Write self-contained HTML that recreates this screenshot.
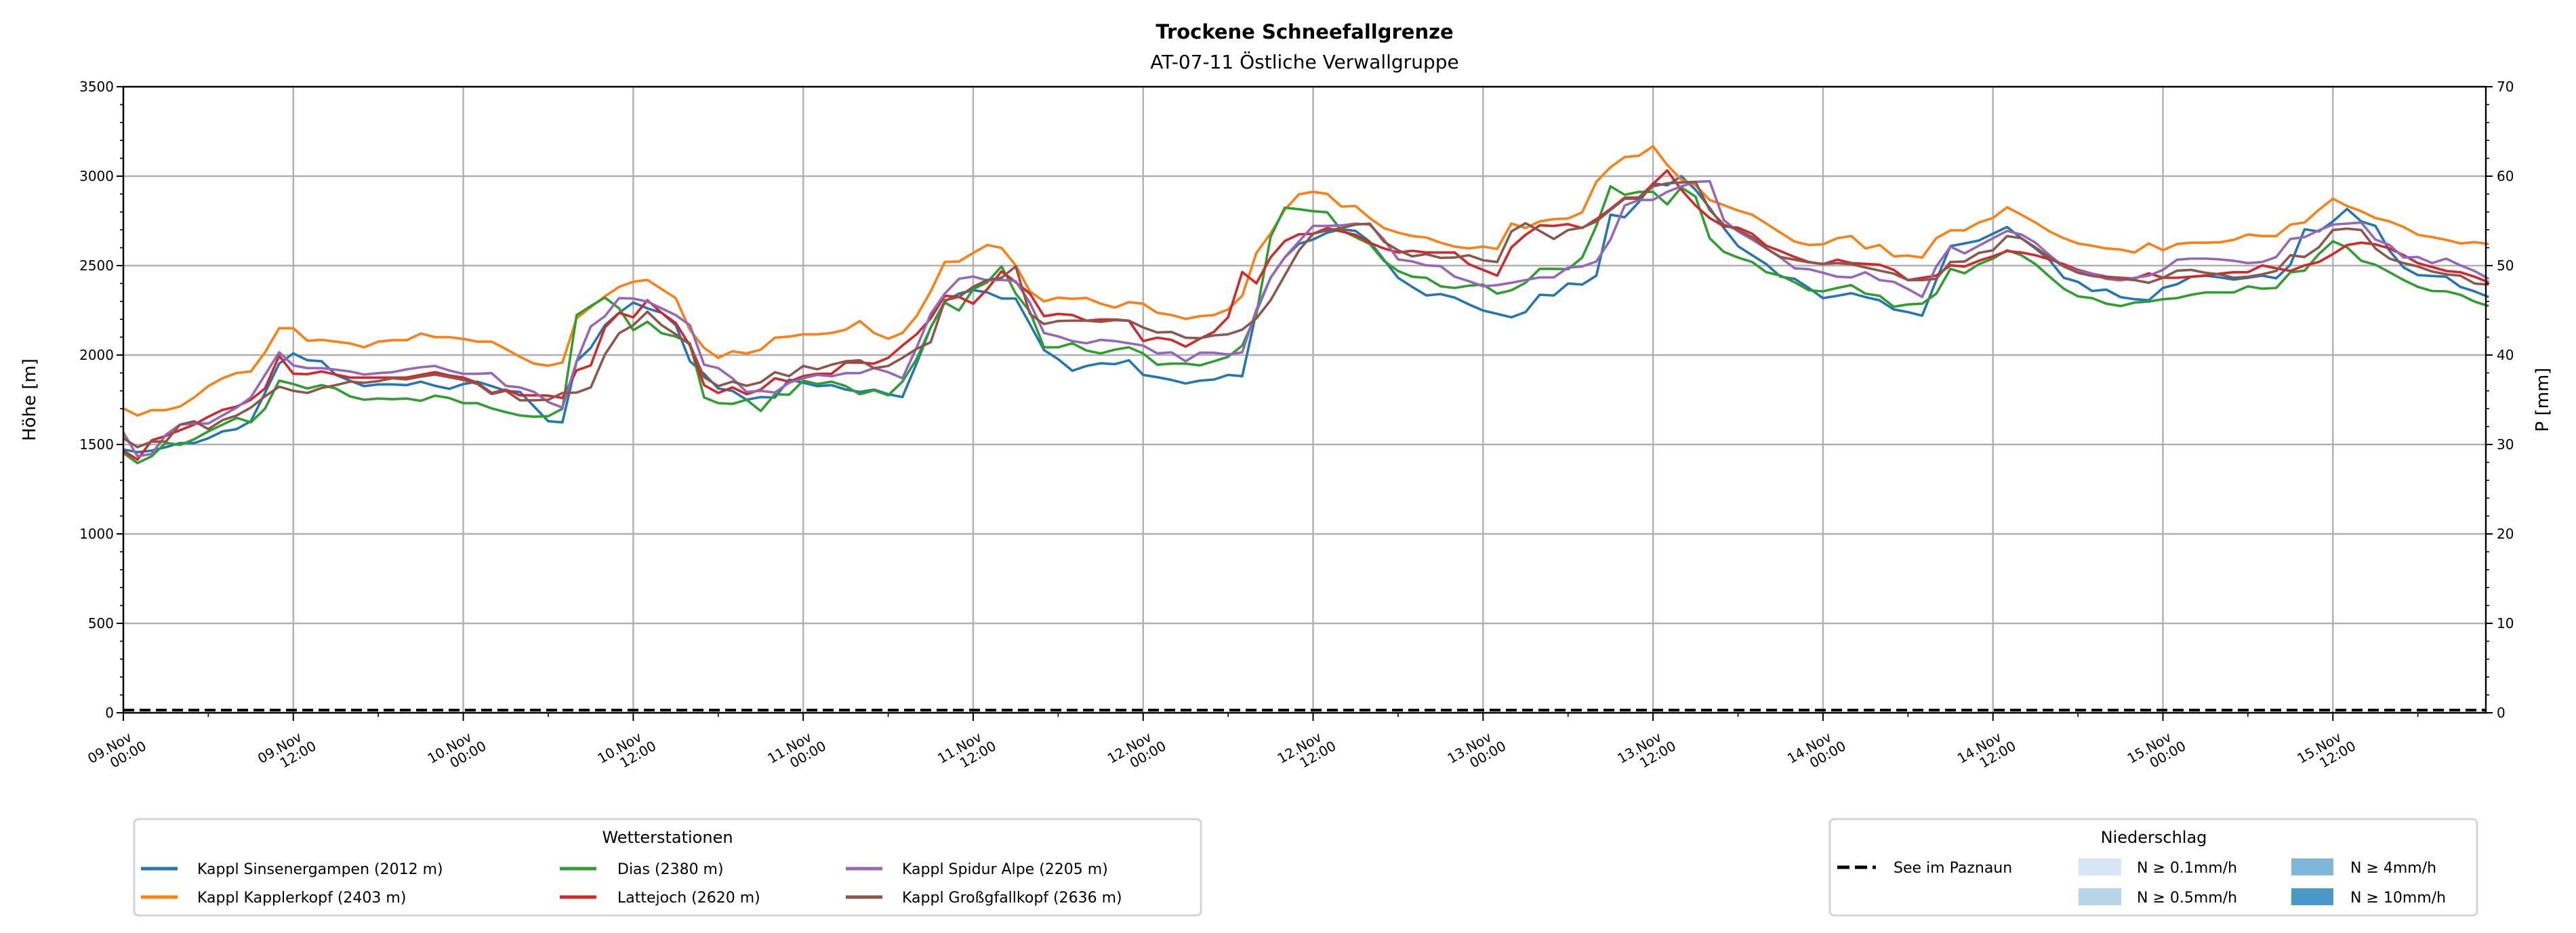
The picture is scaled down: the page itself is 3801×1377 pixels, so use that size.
<!DOCTYPE html>
<html><head><meta charset="utf-8"><style>
html,body{margin:0;padding:0;background:#fff;}
svg{display:block;font-family:"DejaVu Sans","Liberation Sans",sans-serif;}
</style></head><body>
<svg id="chart" width="3801" height="1377" viewBox="0 0 3801 1377" xmlns="http://www.w3.org/2000/svg">
<rect width="3801" height="1377" fill="#fff"/>
<text x="1925" y="57" font-size="29" font-weight="bold" text-anchor="middle">Trockene Schneefallgrenze</text>
<text x="1925" y="101" font-size="28" text-anchor="middle">AT-07-11 Östliche Verwallgruppe</text>
<g id="grid"></g>
<g id="series"></g>
<g id="axes"></g>
<text transform="translate(52,590) rotate(-90)" font-size="26" text-anchor="middle">Höhe [m]</text>
<text transform="translate(3760,590) rotate(-90)" font-size="26" text-anchor="middle">P [mm]</text>

<g>
<rect x="198" y="1209" width="1574" height="142" rx="6" fill="#fff" stroke="#d4d4d4" stroke-width="3"/>
<text x="985" y="1244" font-size="24" text-anchor="middle">Wetterstationen</text>
<g><line x1="208" y1="1282" x2="262" y2="1282" stroke="#1f77b4" stroke-width="5"/><text x="291" y="1290" font-size="22">Kappl Sinsenergampen (2012 m)</text></g>
<g><line x1="208" y1="1324" x2="262" y2="1324" stroke="#ff7f0e" stroke-width="5"/><text x="291" y="1332" font-size="22">Kappl Kapplerkopf (2403 m)</text></g>
<g><line x1="826" y1="1282" x2="880" y2="1282" stroke="#2ca02c" stroke-width="5"/><text x="911" y="1290" font-size="22">Dias (2380 m)</text></g>
<g><line x1="826" y1="1324" x2="880" y2="1324" stroke="#d62728" stroke-width="5"/><text x="911" y="1332" font-size="22">Lattejoch (2620 m)</text></g>
<g><line x1="1248" y1="1282" x2="1302" y2="1282" stroke="#9467bd" stroke-width="5"/><text x="1331" y="1290" font-size="22">Kappl Spidur Alpe (2205 m)</text></g>
<g><line x1="1248" y1="1324" x2="1302" y2="1324" stroke="#8c564b" stroke-width="5"/><text x="1331" y="1332" font-size="22">Kappl Großgfallkopf (2636 m)</text></g>
</g>

<g>
<rect x="2700" y="1209" width="955" height="142" rx="6" fill="#fff" stroke="#d4d4d4" stroke-width="3"/>
<text x="3178" y="1244" font-size="24" text-anchor="middle">Niederschlag</text>
<g><line x1="2711" y1="1280" x2="2768" y2="1280" stroke="#000" stroke-width="5" stroke-dasharray="18,8"/><text x="2794" y="1288" font-size="22">See im Paznaun</text></g>
<g><rect x="3067" y="1267" width="63" height="25" fill="#d6e6f4"/><text x="3153" y="1288" font-size="22">N ≥ 0.1mm/h</text></g>
<g><rect x="3067" y="1311" width="63" height="25" fill="#b8d4ea"/><text x="3153" y="1332" font-size="22">N ≥ 0.5mm/h</text></g>
<g><rect x="3381" y="1267" width="62" height="25" fill="#7fb6d9"/><text x="3468" y="1288" font-size="22">N ≥ 4mm/h</text></g>
<g><rect x="3381" y="1311" width="62" height="25" fill="#4a98c9"/><text x="3468" y="1332" font-size="22">N ≥ 10mm/h</text></g>
</g>
</svg>
<script>
const yTicks = [0,500,1000,1500,2000,2500,3000,3500];
const y2Ticks = [0,10,20,30,40,50,60,70];
const xTickHours = [0,12,24,36,48,60,72,84,96,108,120,132,144,156];
const xTickDates = ["09.Nov","09.Nov","10.Nov","10.Nov","11.Nov","11.Nov","12.Nov","12.Nov","13.Nov","13.Nov","14.Nov","14.Nov","15.Nov","15.Nov"];
const xTickTimes = ["00:00","12:00","00:00","12:00","00:00","12:00","00:00","12:00","00:00","12:00","00:00","12:00","00:00","12:00"];
const lakeLevel = [0,0];
const sinsenergampen = [1472,1457,1466,1485,1508,1508,1535,1573,1586,1630,1788,1952,2009,1971,1965,1889,1857,1826,1836,1836,1832,1851,1828,1811,1838,1851,1826,1800,1794,1712,1630,1624,1965,2040,2167,2236,2293,2261,2236,2167,1965,1895,
1813,1800,1750,1765,1762,1863,1845,1826,1832,1807,1794,1807,1781,1765,1952,2154,2300,2344,2363,2350,2316,2316,2173,2028,1977,1912,1939,1954,1949,1971,1889,1876,1861,1841,1857,1863,1889,1882,2243,2432,2546,2622,
2646,2684,2703,2694,2634,2533,2432,2381,2333,2341,2321,2283,2249,2230,2211,2240,2337,2333,2400,2394,2444,2785,2770,2855,2960,2949,3000,2924,2823,2710,2609,2558,2508,2438,2426,2375,2318,2331,2346,2324,2306,2255,2240,
2220,2419,2609,2624,2640,2678,2716,2653,2596,2530,2432,2409,2358,2366,2324,2312,2306,2375,2396,2438,2444,2434,2422,2432,2444,2429,2505,2703,2691,2747,2817,2747,2722,2583,2489,2447,2442,2438,2381,2356,2324];
const kapplerkopf = [1702,1662,1692,1692,1712,1763,1826,1870,1900,1908,2015,2150,2150,2080,2085,2075,2065,2043,2075,2083,2083,2120,2100,2100,2090,2075,2075,2034,1990,1952,1940,1958,2205,2268,2328,2381,2410,2420,2369,2318,2141,2040,
1984,2021,2009,2030,2097,2103,2116,2116,2123,2142,2190,2123,2091,2123,2217,2356,2521,2523,2571,2615,2599,2502,2356,2300,2321,2314,2319,2287,2265,2296,2287,2236,2224,2202,2217,2224,2255,2331,2571,2679,2812,2898,
2912,2901,2830,2833,2766,2710,2684,2665,2657,2628,2606,2596,2606,2593,2735,2710,2747,2760,2763,2798,2968,3050,3107,3114,3167,3063,2981,2949,2867,2838,2808,2785,2735,2684,2634,2615,2619,2653,2665,2596,2615,2552,2556,
2545,2653,2697,2697,2741,2766,2826,2785,2741,2691,2653,2624,2611,2596,2590,2573,2624,2586,2621,2628,2628,2630,2644,2674,2665,2665,2729,2741,2811,2874,2833,2804,2766,2747,2716,2672,2659,2644,2624,2631,2621];
const dias = [1453,1396,1434,1510,1497,1529,1573,1611,1649,1624,1700,1857,1838,1813,1832,1813,1769,1750,1757,1753,1757,1744,1773,1760,1731,1731,1702,1681,1662,1655,1658,1700,2223,2274,2321,2261,2139,2186,2122,2103,2066,1763,
1731,1727,1750,1687,1781,1778,1857,1838,1851,1826,1781,1803,1775,1851,1977,2154,2293,2249,2369,2407,2496,2344,2243,2043,2043,2066,2025,2009,2030,2043,2009,1946,1952,1952,1942,1965,1990,2053,2230,2660,2824,2815,
2804,2798,2697,2659,2621,2527,2470,2438,2432,2384,2375,2388,2394,2343,2362,2404,2482,2482,2480,2545,2722,2943,2896,2912,2912,2842,2937,2886,2653,2577,2545,2520,2463,2444,2407,2362,2356,2375,2391,2343,2331,2270,2283,
2287,2343,2482,2457,2508,2539,2586,2558,2508,2438,2371,2328,2318,2287,2274,2293,2299,2312,2318,2337,2350,2350,2350,2384,2371,2375,2463,2472,2564,2636,2602,2527,2505,2463,2419,2381,2358,2356,2337,2299,2274];
const lattejoch = [1466,1415,1523,1548,1580,1611,1655,1693,1712,1750,1813,1996,1895,1893,1908,1891,1874,1874,1874,1874,1874,1889,1904,1886,1874,1845,1788,1807,1775,1775,1773,1760,1914,1942,2154,2236,2211,2306,2236,2179,2053,1832,
1788,1819,1781,1807,1870,1851,1882,1895,1895,1958,1958,1952,1984,2053,2116,2205,2331,2325,2287,2369,2468,2407,2344,2217,2230,2224,2192,2199,2199,2192,2078,2097,2085,2047,2091,2129,2211,2464,2401,2546,2637,2675,
2678,2710,2691,2672,2628,2596,2573,2583,2573,2573,2573,2508,2476,2444,2602,2672,2725,2722,2732,2710,2760,2817,2880,2880,2956,3032,2924,2836,2766,2720,2712,2678,2611,2581,2548,2520,2508,2533,2514,2510,2505,2476,2419,
2432,2444,2501,2495,2527,2552,2581,2573,2558,2535,2508,2476,2455,2438,2432,2428,2457,2432,2432,2438,2444,2455,2463,2463,2501,2485,2470,2501,2520,2564,2615,2628,2619,2596,2558,2514,2492,2470,2463,2438,2407];
const spidurAlpe = [1567,1434,1447,1554,1611,1617,1617,1662,1706,1763,1889,2015,1942,1927,1927,1918,1908,1891,1899,1904,1920,1932,1939,1914,1895,1895,1899,1828,1819,1794,1737,1706,1965,2160,2217,2318,2316,2299,2261,2223,2167,1946,
1927,1870,1794,1800,1790,1845,1870,1889,1882,1899,1899,1927,1904,1870,2040,2230,2344,2426,2439,2417,2420,2413,2293,2123,2104,2078,2066,2085,2078,2066,2053,2009,2015,1965,2013,2013,2003,2015,2255,2432,2546,2635,
2722,2722,2725,2735,2729,2646,2535,2523,2501,2497,2438,2413,2384,2391,2404,2419,2434,2434,2489,2495,2523,2646,2836,2867,2867,2912,2943,2968,2972,2754,2691,2646,2596,2545,2485,2480,2460,2438,2434,2463,2419,2409,2369,
2325,2495,2606,2568,2611,2653,2694,2674,2628,2558,2495,2470,2455,2426,2417,2432,2444,2476,2533,2539,2539,2535,2527,2514,2520,2548,2649,2659,2697,2729,2735,2741,2646,2615,2545,2548,2514,2539,2501,2470,2426];
const grossgfallkopf = [1535,1485,1516,1516,1611,1630,1586,1636,1662,1706,1769,1823,1800,1788,1816,1832,1851,1845,1854,1870,1864,1879,1891,1876,1861,1838,1782,1800,1747,1747,1750,1788,1790,1819,2003,2122,2167,2242,2167,2116,2059,1876,
1826,1851,1828,1848,1904,1882,1939,1920,1946,1965,1971,1927,1939,1984,2034,2072,2306,2325,2382,2420,2432,2496,2230,2173,2190,2192,2192,2186,2195,2192,2154,2126,2129,2097,2094,2110,2116,2142,2205,2306,2445,2584,
2678,2697,2710,2729,2735,2634,2586,2552,2564,2543,2545,2558,2530,2520,2691,2737,2694,2649,2699,2712,2747,2811,2874,2874,2943,2960,2965,2968,2811,2729,2699,2659,2596,2548,2533,2518,2510,2514,2508,2489,2472,2455,2419,
2419,2426,2520,2523,2571,2586,2665,2653,2602,2545,2495,2460,2442,2432,2426,2419,2404,2432,2472,2476,2460,2451,2432,2438,2451,2470,2558,2548,2602,2699,2707,2699,2596,2539,2514,2495,2467,2451,2444,2400,2394];

const NS='http://www.w3.org/2000/svg';
const L=182,R=3668,T=128,B=1052,XMAX=166.8,YMAX=3500;
function xs(h){return L+(R-L)*h/XMAX;}
function ys(v){return B-(B-T)*v/YMAX;}
function el(tag,attrs,parent){const e=document.createElementNS(NS,tag);for(const k in attrs)e.setAttribute(k,attrs[k]);parent.appendChild(e);return e;}
const grid=document.getElementById('grid'),axes=document.getElementById('axes'),ser=document.getElementById('series');

yTicks.forEach(v=>{
  const g=el('line',{x1:L,x2:R,y1:ys(v),y2:ys(v),stroke:'#b0b0b0','stroke-width':2.4},grid);
  
  
  const t=el('text',{x:L-14,y:ys(v)+7,'font-size':20,'text-anchor':'end'},axes);
  t.textContent=v;
  
  
  el('line',{x1:L-10,x2:L,y1:ys(v),y2:ys(v),stroke:'#000','stroke-width':2},axes);
});
for(let v=100;v<YMAX;v+=100){el('line',{x1:L-5,x2:L,y1:ys(v),y2:ys(v),stroke:'#000','stroke-width':1.6},axes);}
y2Ticks.forEach(p=>{
  const yy=B-(B-T)*p/70;
  el('line',{x1:R,x2:R+10,y1:yy,y2:yy,stroke:'#000','stroke-width':2},axes);
  const t=el('text',{x:R+16,y:yy+7,'font-size':20,'text-anchor':'start'},axes);
  t.textContent=p;
  
  
});
for(let p=2;p<70;p+=2){const yy=B-(B-T)*p/70;el('line',{x1:R,x2:R+5,y1:yy,y2:yy,stroke:'#000','stroke-width':1.6},axes);}
xTickHours.forEach((h,i)=>{
  const x=xs(h);
  const g=el('line',{x1:x,x2:x,y1:T,y2:B,stroke:'#b0b0b0','stroke-width':2.4},grid);
  
  
  el('line',{x1:x,x2:x,y1:B,y2:B+12,stroke:'#000','stroke-width':2},axes);
  const t=el('text',{transform:'translate('+(x+14)+','+(B+40)+') rotate(-30)','font-size':20,'text-anchor':'end'},axes);
  
  
  const a=el('tspan',{x:0,dy:0},t);a.textContent=xTickDates[i];
  const b=el('tspan',{x:12,dy:22},t);b.textContent=xTickTimes[i];
});
for(let h=6;h<XMAX;h+=12){el('line',{x1:xs(h),x2:xs(h),y1:B,y2:B+6,stroke:'#000','stroke-width':1.6},axes);}
const frame=el('rect',{x:L,y:T,width:R-L,height:B-T,fill:'none',stroke:'#000','stroke-width':2.4},axes);



const seriesList=[[sinsenergampen,'#1f77b4','line-sinsenergampen'],[kapplerkopf,'#ff7f0e','line-kapplerkopf'],[dias,'#2ca02c','line-dias'],[lattejoch,'#d62728','line-lattejoch'],[spidurAlpe,'#9467bd','line-spidur-alpe'],[grossgfallkopf,'#8c564b','line-grossgfallkopf']];
seriesList.forEach(s=>{
  const pts=s[0].map((v,i)=>xs(i).toFixed(1)+','+ys(v).toFixed(1)).join(' ');
  const p=el('polyline',{points:pts,fill:'none',stroke:s[1],'stroke-width':3.6,'stroke-linejoin':'round'},ser);
  
  
});
const lake=el('line',{x1:L,x2:R,y1:ys(lakeLevel[0])-4,y2:ys(lakeLevel[1])-4,stroke:'#000','stroke-width':4,'stroke-dasharray':'16,8'},ser);


</script>
</body></html>
